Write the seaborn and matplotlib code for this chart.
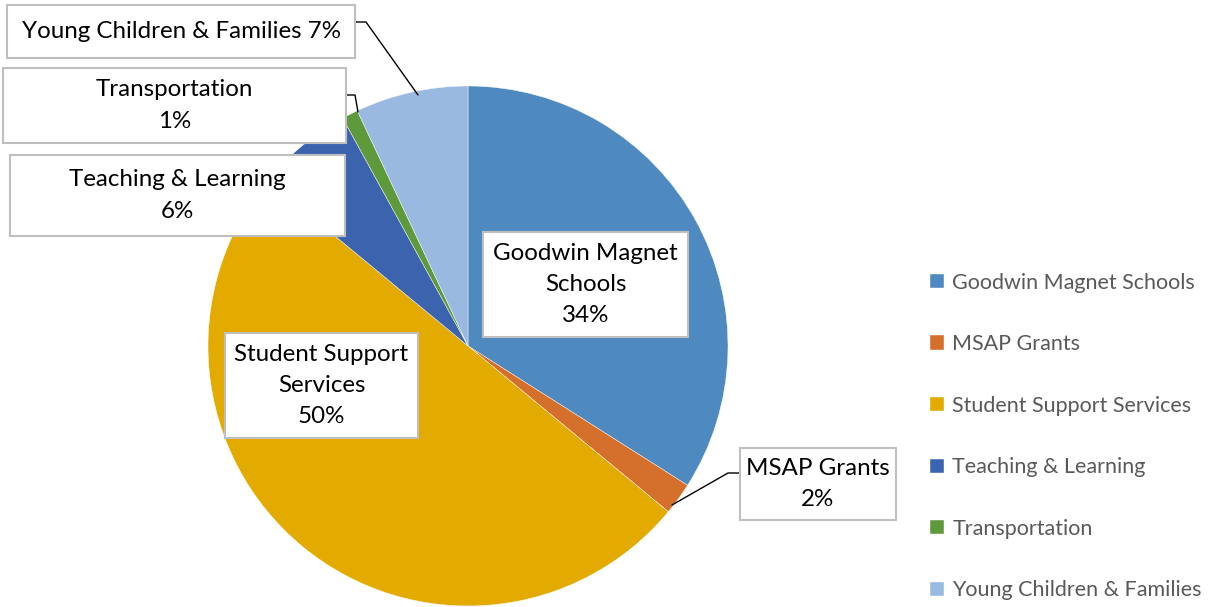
import matplotlib
matplotlib.use("Agg")
import matplotlib.pyplot as plt
from matplotlib.patches import Rectangle
import seaborn as sns

categories = ["Goodwin Magnet Schools", "MSAP Grants", "Student Support Services",
              "Teaching & Learning", "Transportation", "Young Children & Families"]
values = [34, 2, 50, 6, 1, 7]
colors = ["#4E8AC0", "#D5702C", "#E3AA00", "#3C64AE", "#5E9A3C", "#99B9E0"]
label_texts = ["Goodwin Magnet\nSchools\n34%", "MSAP Grants\n2%", "Student Support\nServices\n50%",
               "Teaching & Learning\n6%", "Transportation\n1%", "Young Children & Families 7%"]

sns.set_theme(style="white")
plt.rcParams['font.family'] = ['Lato', 'DejaVu Sans']

W, H = 1211, 607
fig = plt.figure(figsize=(W / 100, H / 100), dpi=100)
ax = fig.add_axes([0, 0, 1, 1])

cx, cy, R = 468, H - 346, 260
wedges, _ = ax.pie(values, colors=colors, startangle=90, counterclock=False,
                   center=(cx, cy), radius=R, frame=True,
                   wedgeprops=dict(edgecolor="white", linewidth=0.3))
ax.set_xlim(0, W)
ax.set_ylim(0, H)
ax.axis("off")

# label boxes: (x0, y0_top, x1, y1_bottom) in pixel coords from top
boxes = [
    (483, 232, 688, 337),
    (740, 448, 896, 520),
    (225, 333, 418, 438),
    (10, 155, 345, 236),
    (3, 68, 346, 143),
    (7, 5, 355, 58),
]

# leader lines (pixel coords from top)
leaders = {
    5: [(355, 22), (366, 22), (418, 95)],
    4: [(346, 95), (355, 95), (358, 112)],
    1: [(740, 473), (728, 473), (672, 505)],
}
for i, pts in leaders.items():
    xs = [p[0] for p in pts]
    ys = [H - p[1] for p in pts]
    ax.plot(xs, ys, color="black", lw=1.0, zorder=4)

for txt, (x0, y0, x1, y1) in zip(label_texts, boxes):
    ax.add_patch(Rectangle((x0, H - y1), x1 - x0, y1 - y0, facecolor="white",
                           edgecolor="#BFBFBF", lw=1.5, zorder=5))
    ax.text((x0 + x1) / 2, H - (y0 + y1) / 2, txt, ha="center", va="center",
            fontsize=17.4, color="black", zorder=6, linespacing=1.6)

leg = ax.legend(wedges, categories, loc="upper left", bbox_to_anchor=(921 / W, 1 - 264 / H),
                bbox_transform=fig.transFigure, frameon=False, fontsize=15.5,
                handlelength=0.65, handleheight=0.65, handletextpad=0.4,
                labelspacing=1.93, borderaxespad=0)
for t in leg.get_texts():
    t.set_color("#595959")

fig.savefig("out.png", dpi=100)
